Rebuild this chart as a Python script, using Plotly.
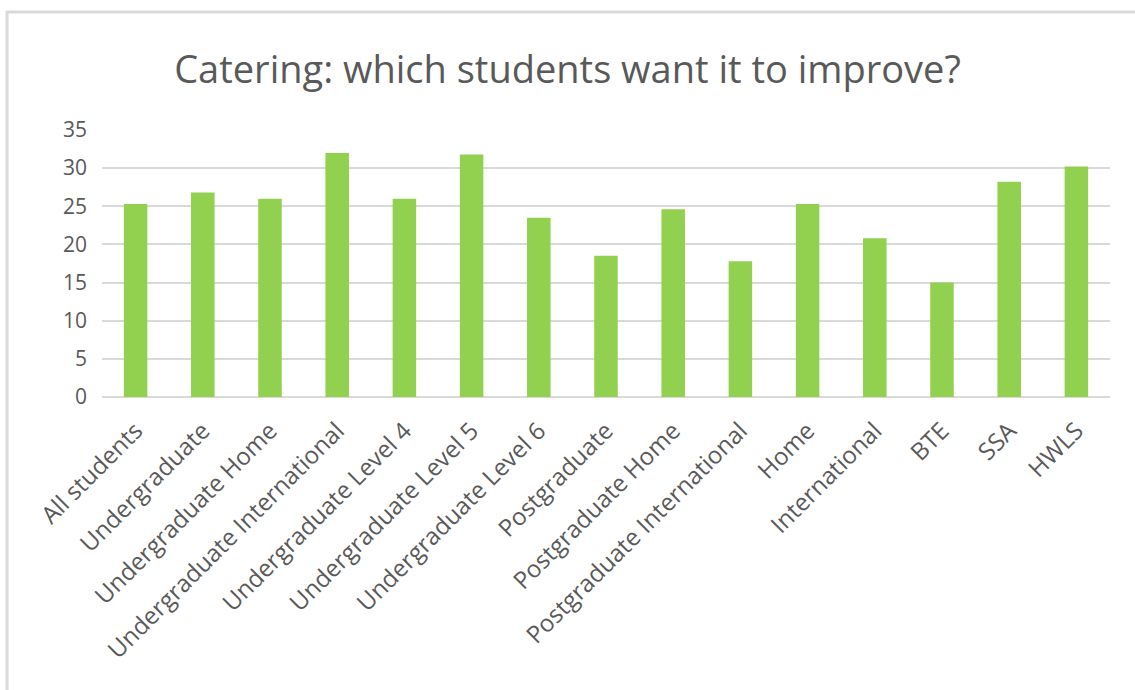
import plotly.graph_objects as go

# Share of each student group wanting catering to improve (%)
groups = [
    "All students", "Undergraduate", "Undergraduate Home",
    "Undergraduate International", "Undergraduate Level 4",
    "Undergraduate Level 5", "Undergraduate Level 6", "Postgraduate",
    "Postgraduate Home", "Postgraduate International", "Home",
    "International", "BTE", "SSA", "HWLS",
]
values = [25.3, 26.8, 26.0, 32.0, 26.0, 31.8, 23.5, 18.5, 24.6, 17.8, 25.3, 20.8, 15.0, 28.2, 30.2]
y_ticks = [0, 5, 10, 15, 20, 25, 30, 35]

W, H = 1135, 690
M_L, M_R, M_T, M_B = 102, 25, 130, 293
plot_w = W - M_L - M_R
plot_h = H - M_T - M_B


def px_x(px):
    return (px - M_L) / plot_w


def px_y(py):
    return (H - M_B - py) / plot_h


FONT = "Open Sans"
TEXT = "#595959"
GRID = "#d9d9d9"

fig = go.Figure(
    go.Bar(
        x=groups,
        y=values,
        marker=dict(color="#92d050", line=dict(width=0)),
        hoverinfo="x+y",
    )
)

fig.update_layout(
    width=W,
    height=H,
    margin=dict(l=M_L, r=M_R, t=M_T, b=M_B),
    paper_bgcolor="white",
    plot_bgcolor="white",
    bargap=0.65,
    showlegend=False,
    title=dict(
        text="Catering: which students want it to improve?",
        x=0.5,
        xanchor="center",
        xref="container",
        y=1 - 70 / H,
        yanchor="middle",
        yref="container",
        font=dict(family=FONT, size=38, color=TEXT),
    ),
    font=dict(family=FONT, color=TEXT),
)

fig.update_xaxes(
    tickangle=-45,
    tickfont=dict(family=FONT, size=24, color=TEXT),
    showgrid=False,
    showline=False,
    ticks="",
    ticklabelstandoff=14,
)
fig.update_yaxes(
    range=[0, 35],
    tickvals=y_ticks,
    tickfont=dict(family=FONT, size=21, color=TEXT),
    showgrid=True,
    gridcolor=GRID,
    gridwidth=2,
    zeroline=True,
    zerolinecolor=GRID,
    zerolinewidth=2,
    showline=False,
    ticks="",
    ticklabelstandoff=14,
)

# Chart frame (top and left edges)
fig.add_shape(type="line", xref="paper", yref="paper",
              x0=px_x(6), x1=px_x(W + 5), y0=px_y(12), y1=px_y(12),
              line=dict(color=GRID, width=3), layer="below")
fig.add_shape(type="line", xref="paper", yref="paper",
              x0=px_x(7), x1=px_x(7), y0=px_y(11), y1=px_y(H + 5),
              line=dict(color=GRID, width=3), layer="below")

fig.write_html("out.html")
